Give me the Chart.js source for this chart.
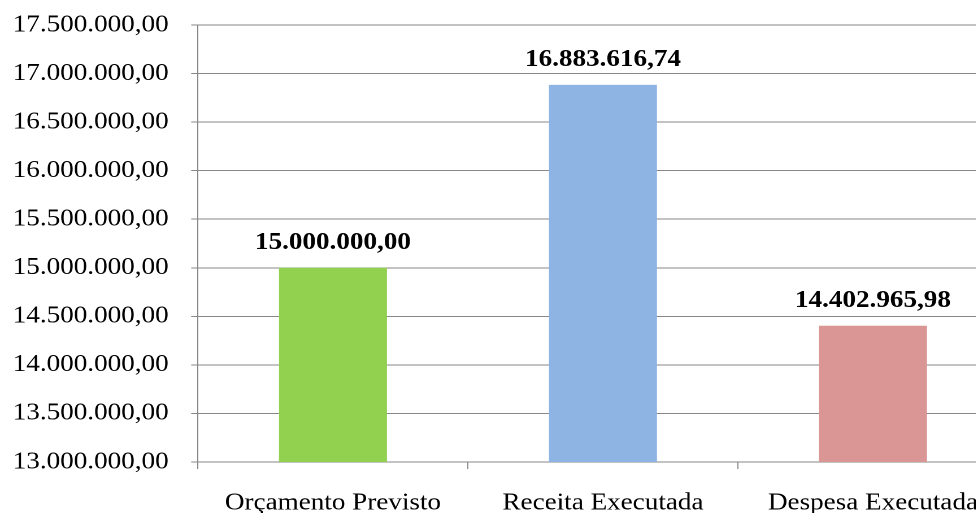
<!DOCTYPE html>
<html>
<head>
<meta charset="utf-8">
<script src="https://cdn.jsdelivr.net/npm/chart.js@4"></script>
<style>
  html, body { margin: 0; padding: 0; background: #fff; overflow: hidden; }
  /* the original picture is stretched sideways, so the whole chart is too */
  #wrap { position: relative; width: 892px; height: 513px; transform: scaleX(1.13); transform-origin: 0 0; }
</style>
</head>
<body>
<div id="wrap"><canvas id="chart"></canvas></div>
<script>
// chart data
const categories = ["Orçamento Previsto", "Receita Executada", "Despesa Executada"];
const values = [15000000.00, 16883616.74, 14402965.98];
const barColors = ["#92D050", "#8EB4E3", "#D99694"];
const yMin = 13000000;
const yMax = 17500000;
const yStep = 500000;

// 17500000 -> "17.500.000,00"
function fmtBR(v) {
  const parts = v.toFixed(2).split(".");
  const intPart = parts[0].replace(/\B(?=(\d{3})+(?!\d))/g, ".");
  return intPart + "," + parts[1];
}

const FONT = "'Liberation Serif', 'Times New Roman', serif";
const gridGray = "#878787";

const valueLabels = {
  id: "valueLabels",
  afterDatasetsDraw(chart) {
    const ctx = chart.ctx;
    const meta = chart.getDatasetMeta(0);
    ctx.save();
    ctx.font = "bold 24px " + FONT;
    ctx.fillStyle = "#000";
    ctx.textAlign = "center";
    ctx.textBaseline = "alphabetic";
    meta.data.forEach((bar, i) => {
      ctx.fillText(fmtBR(values[i]), bar.x, bar.y - 19);
    });
    ctx.restore();
  }
};

new Chart(document.getElementById("chart"), {
  type: "bar",
  data: {
    labels: categories,
    datasets: [{
      data: values,
      backgroundColor: barColors,
      borderWidth: 0,
      categoryPercentage: 1,
      barPercentage: 0.4
    }]
  },
  options: {
    responsive: true,
    maintainAspectRatio: false,
    animation: false,
    devicePixelRatio: 2,
    layout: { padding: { top: 25, right: 0, left: 0, bottom: 0 } },
    plugins: {
      legend: { display: false },
      tooltip: { enabled: false }
    },
    scales: {
      x: {
        grid: { drawOnChartArea: false, drawTicks: true, tickLength: 7, color: gridGray, lineWidth: 1 },
        border: { display: true, color: gridGray, width: 1 },
        ticks: { color: "#000", font: { family: FONT, size: 24 }, padding: 20, maxRotation: 0 },
        afterFit(scale) { scale.height = 51; }
      },
      y: {
        min: yMin,
        max: yMax,
        grid: { color: gridGray, lineWidth: 1, tickLength: 6, drawTicks: true },
        border: { display: true, color: gridGray, width: 1 },
        ticks: {
          stepSize: yStep,
          color: "#000",
          font: { family: FONT, size: 24 },
          padding: 20,
          callback: (v) => fmtBR(v)
        },
        afterFit(scale) {
          scale.width = 175.2;
          scale.paddingTop = 0;
          scale.paddingBottom = 0;
        }
      }
    }
  },
  plugins: [valueLabels]
});
</script>
</body>
</html>
